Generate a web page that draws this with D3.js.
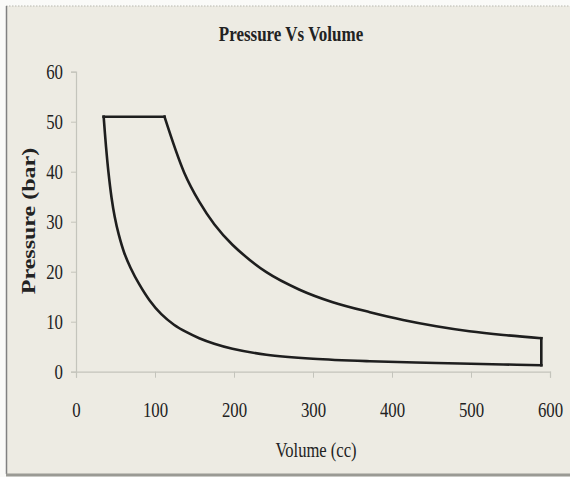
<!DOCTYPE html>
<html>
<head>
<meta charset="utf-8">
<script src="https://cdn.jsdelivr.net/npm/d3@7"></script>
<style>
  html, body { margin: 0; padding: 0; background: #fafaf8; }
  svg { display: block; }
  text { font-family: "Liberation Serif", "Times New Roman", serif; fill: #222; }
</style>
</head>
<body>
<div id="chart"></div>
<script>
// ---- Data ----
const chartTitle = "Pressure Vs Volume";
const xTitle = "Volume (cc)";
const yTitle = "Pressure (bar)";
const xTicks = [0, 100, 200, 300, 400, 500, 600];
const yTicks = [0, 10, 20, 30, 40, 50, 60];

// Compression stroke (from BDC to TDC), volume in cc, pressure in bar
const compressionVolume   = [35, 38, 41, 45, 49, 54, 61, 69, 80, 93, 108, 124, 140, 156, 175, 198, 241, 300, 372, 456, 541, 589];
const compressionPressure = [51, 45, 40, 34.8, 31, 27.5, 23.8, 20.8, 17.5, 14.3, 11.5, 9.4, 7.9, 6.7, 5.6, 4.6, 3.4, 2.6, 2.1, 1.75, 1.45, 1.3];

// Constant-pressure heat addition
const heatAddVolume   = [35, 112];
const heatAddPressure = [51, 51];

// Expansion stroke
const expansionVolume   = [112, 137, 156, 175, 198, 241, 283, 325, 372, 414, 456, 498, 541, 589];
const expansionPressure = [51, 39.8, 34.0, 29.5, 25.4, 19.9, 16.4, 13.9, 11.9, 10.35, 9.1, 8.1, 7.35, 6.7];

// Constant-volume heat rejection
const rejectVolume   = [589, 589];
const rejectPressure = [6.7, 1.3];

// ---- Layout ----
const W = 570, H = 477;
const plot = { left: 76, right: 550, top: 71.7, bottom: 371.7 };

const svg = d3.select("#chart").append("svg").attr("width", W).attr("height", H);

// frame
svg.append("rect").attr("x", 0).attr("y", 0).attr("width", W).attr("height", H).attr("fill", "#fafaf8");
svg.append("rect").attr("x", 6).attr("y", 6).attr("width", W - 6).attr("height", H - 9).attr("fill", "#edebe3");
svg.append("line").attr("x1", 6).attr("x2", W).attr("y1", 6).attr("y2", 6)
  .attr("stroke", "#b8b8b0").attr("stroke-width", 1).attr("stroke-dasharray", "1.5,1.5");
svg.append("line").attr("x1", 6.5).attr("x2", 6.5).attr("y1", 6).attr("y2", H - 3)
  .attr("stroke", "#808080").attr("stroke-width", 1.5);
svg.append("line").attr("x1", 6).attr("x2", W).attr("y1", H - 2).attr("y2", H - 2)
  .attr("stroke", "#9a9a94").attr("stroke-width", 3);

const x = d3.scaleLinear().domain([0, 600]).range([plot.left, plot.right]);
const y = d3.scaleLinear().domain([0, 60]).range([plot.bottom, plot.top]);

const axisColor = "#c4c4bc";

// x axis
const gx = svg.append("g").attr("transform", `translate(0,${plot.bottom})`)
  .call(d3.axisBottom(x).tickValues(xTicks).tickSize(6).tickPadding(24.5).tickFormat(d3.format("d")));
gx.select(".domain").attr("stroke", axisColor).attr("stroke-width", 1.2);
gx.selectAll(".tick line").attr("stroke", axisColor).attr("stroke-width", 1);
gx.selectAll(".tick text").attr("font-size", 21).attr("fill", "#1c1c1c")
  .attr("font-family", "Liberation Serif, serif").attr("transform", "scale(0.8,1)");

// y axis
const gy = svg.append("g").attr("transform", `translate(${plot.left},0)`)
  .call(d3.axisLeft(y).tickValues(yTicks).tickSize(5).tickPadding(11.3).tickFormat(d3.format("d")));
gy.select(".domain").attr("stroke", axisColor).attr("stroke-width", 1.2);
gy.selectAll(".tick line").attr("stroke", axisColor).attr("stroke-width", 1);
gy.selectAll(".tick text").attr("font-size", 21).attr("fill", "#1c1c1c")
  .attr("font-family", "Liberation Serif, serif").attr("transform", "scale(0.8,1)");

// titles
svg.append("g").attr("transform", "translate(291,41) scale(0.81,1)")
  .append("text").attr("text-anchor", "middle").attr("font-size", 21).attr("font-weight", "bold")
  .text(chartTitle);
svg.append("g").attr("transform", "translate(316,457) scale(0.79,1)")
  .append("text").attr("text-anchor", "middle").attr("font-size", 21)
  .text(xTitle);
svg.append("g").attr("transform", "translate(28,221) scale(0.8,1) rotate(-90)")
  .append("text").attr("text-anchor", "middle").attr("dy", "0.35em").attr("font-size", 24).attr("font-weight", "bold")
  .text(yTitle);

// cycle lines
const curveLine = d3.line().x(d => x(d[0])).y(d => y(d[1])).curve(d3.curveCatmullRom.alpha(0.5));
const straight = d3.line().x(d => x(d[0])).y(d => y(d[1]));
const zip = (a, b) => a.map((v, i) => [v, b[i]]);

const lineStyle = sel => sel.attr("fill", "none").attr("stroke", "#1e1e1e")
  .attr("stroke-width", 2.6).attr("stroke-linejoin", "miter").attr("stroke-linecap", "square");

svg.append("path").datum(zip(compressionVolume, compressionPressure)).attr("d", curveLine).call(lineStyle);
svg.append("path").datum(zip(expansionVolume, expansionPressure)).attr("d", curveLine).call(lineStyle);
svg.append("path").datum(zip(heatAddVolume, heatAddPressure)).attr("d", straight).call(lineStyle);
svg.append("path").datum(zip(rejectVolume, rejectPressure)).attr("d", straight).call(lineStyle);
</script>
</body>
</html>
